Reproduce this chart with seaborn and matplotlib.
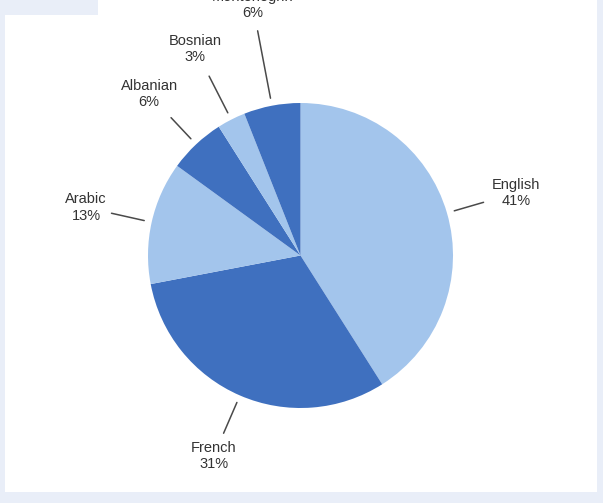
import numpy as np
import matplotlib
matplotlib.use("Agg")
import matplotlib.pyplot as plt
from matplotlib.patches import Rectangle
import seaborn as sns

# Language shares
languages = ["English", "French", "Arabic", "Albanian", "Bosnian", "Montenegrin"]
shares = [41, 31, 13, 6, 3, 6]

LIGHT = "#a3c5ec"
DARK = "#3f70bf"
slice_colors = [LIGHT, DARK, LIGHT, DARK, LIGHT, DARK]

# distance (in pie radii) of the leader line ends and of each label
line_outer = [1.25, 1.27, 1.27, 1.24, 1.32, 1.50]
label_dist = [1.47, 1.43, 1.44, 1.45, 1.52, 1.67]

sns.set_theme(style="white")
plt.rcParams["font.family"] = ["Liberation Sans", "DejaVu Sans"]

W, H = 603, 503
fig = plt.figure(figsize=(W / 100, H / 100), dpi=100, facecolor="#e9eef8")
ax = fig.add_axes([0, 0, 1, 1])
ax.set_facecolor("#e9eef8")

# white panel
ax.add_patch(Rectangle((5, H - 492), 592, 477, facecolor="white", edgecolor="none", zorder=0))
ax.add_patch(Rectangle((98, H - 15), 499, 15, facecolor="white", edgecolor="none", zorder=0))

cx, cy, r = 300.5, H - 255.5, 152.5
wedges, _ = ax.pie(shares, colors=slice_colors, startangle=90, counterclock=False,
                   center=(cx, cy), radius=r, frame=True,
                   wedgeprops=dict(linewidth=0))

for w, name, val, lo, ld in zip(wedges, languages, shares, line_outer, label_dist):
    ang = np.deg2rad((w.theta1 + w.theta2) / 2)
    c, s = np.cos(ang), np.sin(ang)
    ax.plot([cx + 1.05 * r * c, cx + lo * r * c], [cy + 1.05 * r * s, cy + lo * r * s],
            color="#4a4a4a", lw=1.1, zorder=3)
    ax.text(cx + ld * r * c, cy + ld * r * s, f"{name}\n{val}%", ha="center", va="center",
            fontsize=10.5, color="#333333", linespacing=1.2, zorder=4)

ax.set_xlim(0, W)
ax.set_ylim(0, H)
ax.set_aspect("equal")
ax.axis("off")

fig.savefig("out.png", dpi=100, facecolor=fig.get_facecolor())
